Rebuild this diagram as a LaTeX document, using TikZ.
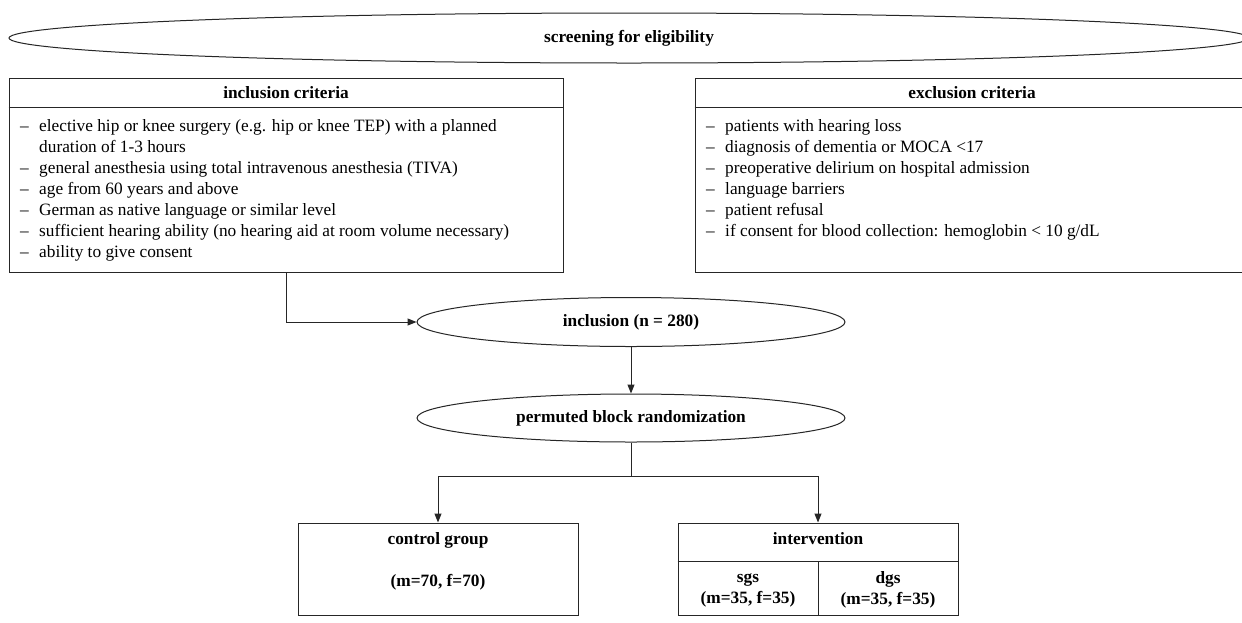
\documentclass[tikz,border=0pt]{standalone}
\usepackage{fontspec}
\setmainfont{Liberation Serif}
\usetikzlibrary{arrows.meta,shapes.geometric}
\begin{document}
\begin{tikzpicture}[x=1pt,y=-1pt,
  every node/.style={font=\fontsize{17.3}{21}\selectfont},
  line/.style={line width=1pt, draw=black!85},
  boxnode/.style={line, rectangle, inner sep=0pt},
  ell/.style={line, ellipse, inner sep=0pt, font=\fontsize{17.3}{21}\selectfont\bfseries},
  hdr/.style={font=\fontsize{17.3}{21}\selectfont\bfseries, inner sep=0pt},
  lst/.style={inner sep=0pt, anchor=north west},
  arr/.style={line, -{Triangle[length=9pt,width=7pt]}}
]
\useasboundingbox (0,0) rectangle (1242,622);
\clip (0,0) rectangle (1242,622);
\fill[white] (0,0) rectangle (1242,622);

% screening
\node[ell, minimum width=1240pt, minimum height=50pt] (screen) at (629,38) {screening for eligibility};

% inclusion criteria
\node[boxnode, minimum width=554pt, minimum height=194pt] (inc) at (286,175) {};
\draw[line] ([yshift=-30pt]inc.north west) -- ([yshift=-30pt]inc.north east);
\node[hdr] (inctitle) at (286,93) {inclusion criteria};
\node[lst] (inclist) at (20,116.3) {\begin{tabular}{@{}p{19pt}@{}l@{}}
– & elective hip or knee surgery (e.g. hip or knee TEP) with a planned\\
  & duration of 1-3 hours\\
– & general anesthesia using total intravenous anesthesia (TIVA)\\
– & age from 60 years and above\\
– & German as native language or similar level\\
– & sufficient hearing ability (no hearing aid at room volume necessary)\\
– & ability to give consent
\end{tabular}};

% exclusion criteria
\node[boxnode, minimum width=554pt, minimum height=194pt] (exc) at (972,175) {};
\draw[line] ([yshift=-30pt]exc.north west) -- ([yshift=-30pt]exc.north east);
\node[hdr] (exctitle) at (972,93) {exclusion criteria};
\node[lst] (exclist) at (706,116.3) {\begin{tabular}{@{}p{19pt}@{}l@{}}
– & patients with hearing loss\\
– & diagnosis of dementia or MOCA <17\\
– & preoperative delirium on hospital admission\\
– & language barriers\\
– & patient refusal\\
– & if consent for blood collection: hemoglobin < 10 g/dL
\end{tabular}};

% ellipses
\node[ell, minimum width=428pt, minimum height=49pt] (incl) at (631,322) {inclusion (n = 280)};
\node[ell, minimum width=428pt, minimum height=48pt] (perm) at (631,418) {permuted block randomization};

% control group
\node[boxnode, minimum width=280pt, minimum height=92pt] (ctrl) at (438,569) {};
\node[hdr] (ctrltitle) at (438,540) {control group};
\node[hdr] (ctrlnum) at (438,582) {(m=70, f=70)};

% intervention
\node[boxnode, minimum width=280pt, minimum height=92pt] (interv) at (818,569) {};
\draw[line] ([yshift=-39pt]interv.north west) coordinate (ivw) -- ([yshift=-39pt]interv.north east);
\draw[line] ([yshift=-39pt]interv.north) -- (interv.south);
\node[hdr] (ivtitle) at (818,539) {intervention};
\node[hdr, align=center] (sgs) at (748,590) {sgs\\(m=35, f=35)};
\node[hdr, align=center] (dgs) at (888,590) {dgs\\(m=35, f=35)};

% connectors
\draw[arr] (inc.south) |- (incl.west);
\draw[arr] (incl.south) -- (perm.north);
\coordinate (split) at (631,476);
\draw[line] (perm.south) -- (split);
\draw[arr] (split) -| (ctrl.north);
\draw[arr] (split) -| (interv.north);
\end{tikzpicture}
\end{document}
